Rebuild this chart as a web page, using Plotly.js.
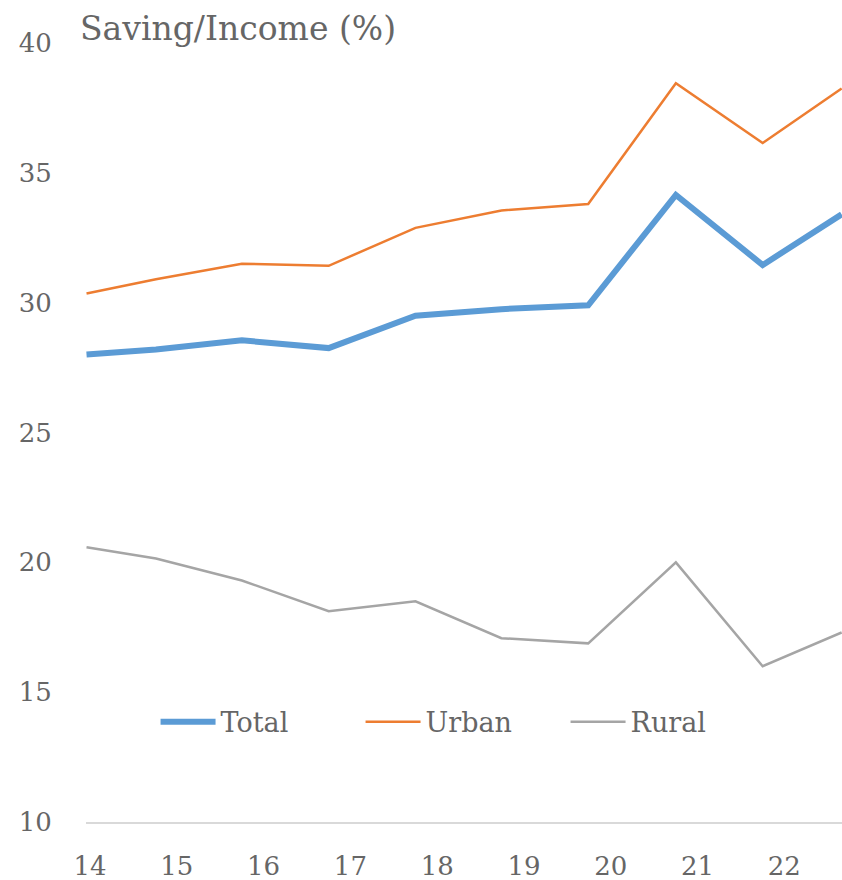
<!DOCTYPE html>
<html>
<head>
<meta charset="utf-8">
<script src="https://cdn.plot.ly/plotly-3.0.1.min.js"></script>
<style>html,body{margin:0;padding:0;background:#fff;}#chart{width:842px;height:880px;}</style>
</head>
<body>
<div id="chart"></div>
<script>
// Year positions of the observations (fractional year axis; labels show 14..22)
const xPos = [13.96, 14.76, 15.75, 16.75, 17.75, 18.74, 19.74, 20.75, 21.75, 22.66];
const total = [28.0, 28.2, 28.55, 28.25, 29.5, 29.75, 29.9, 34.15, 31.45, 33.4];
const urban = [30.35, 30.9, 31.5, 31.42, 32.88, 33.55, 33.8, 38.45, 36.15, 38.25];
const rural = [20.58, 20.15, 19.3, 18.12, 18.5, 17.08, 16.88, 20.0, 16.0, 17.3];
const xTickVals = [14, 15, 16, 17, 18, 19, 20, 21, 22];
const xTickText = ["14", "15", "16", "17", "18", "19", "20", "21", "22"];
const yTickVals = [10, 15, 20, 25, 30, 35, 40];

const FONT = "DejaVu Serif, Liberation Serif, serif";
const TXT = "#666666";

const traces = [
  {x: xPos, y: total, name: "Total", type: "scatter", mode: "lines",
   line: {color: "#5B9BD5", width: 6}},
  {x: xPos, y: urban, name: "Urban", type: "scatter", mode: "lines",
   line: {color: "#ED7D31", width: 2.5}},
  {x: xPos, y: rural, name: "Rural", type: "scatter", mode: "lines",
   line: {color: "#A5A5A5", width: 2.5}}
];

const layout = {
  width: 842, height: 880,
  margin: {l: 86, r: 0, t: 43, b: 58, pad: 0},
  paper_bgcolor: "#fff", plot_bgcolor: "#fff",
  font: {family: FONT, color: TXT, size: 26},
  title: {text: "Saving/Income (%)", font: {family: FONT, size: 33, color: TXT},
          x: 80/842, xref: "container", xanchor: "left",
          y: 1 - 28/880, yref: "container", yanchor: "middle"},
  showlegend: true,
  legend: {orientation: "h", xref: "paper", yref: "paper",
           x: 0.092, xanchor: "left", y: 0.128, yanchor: "middle",
           font: {family: FONT, size: 27, color: TXT},
           itemwidth: 55, entrywidth: 135, entrywidthmode: "pixels",
           bgcolor: "rgba(0,0,0,0)", traceorder: "normal"},
  xaxis: {range: [13.954, 22.664], tickmode: "array", tickvals: xTickVals, ticktext: xTickText,
          showgrid: false, zeroline: false, showline: true, linecolor: "#D9D9D9", linewidth: 1.5,
          ticks: "outside", ticklen: 20, tickcolor: "rgba(0,0,0,0)",
          tickfont: {family: FONT, size: 26, color: TXT}, fixedrange: true},
  yaxis: {range: [10, 40], tickmode: "array", tickvals: yTickVals,
          showgrid: false, zeroline: false, showline: false,
          ticks: "outside", ticklen: 28, tickcolor: "rgba(0,0,0,0)",
          tickfont: {family: FONT, size: 26, color: TXT}, fixedrange: true}
};

Plotly.newPlot("chart", traces, layout, {displayModeBar: false, staticPlot: true});
</script>
</body>
</html>
